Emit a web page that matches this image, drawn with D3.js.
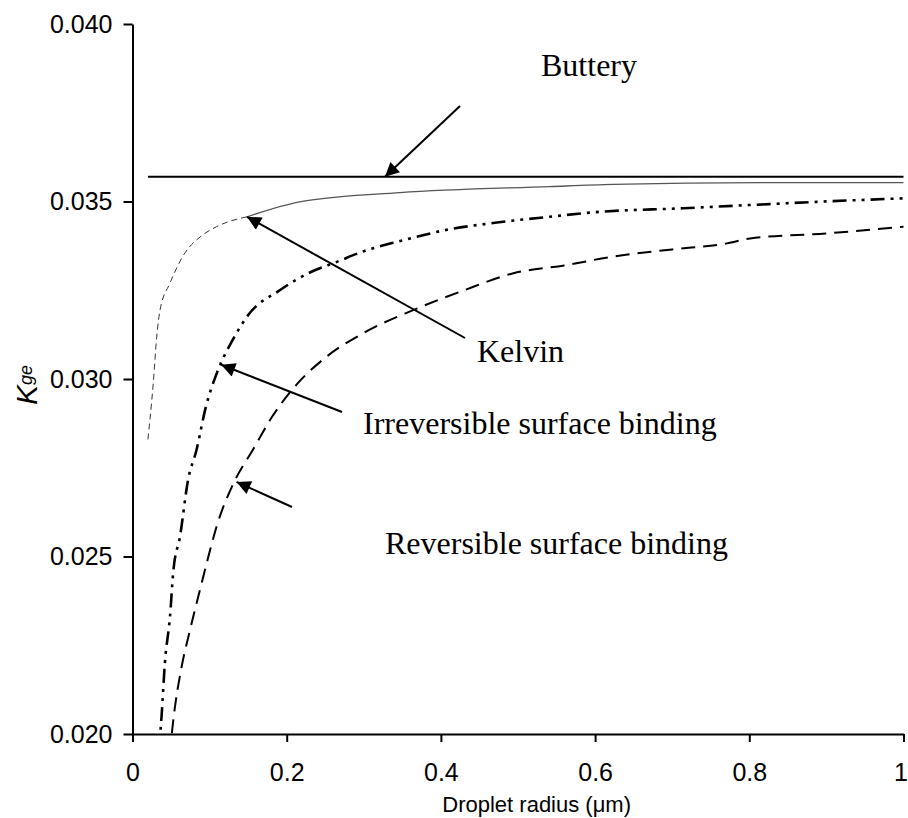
<!DOCTYPE html>
<html><head><meta charset="utf-8">
<script src="https://cdn.jsdelivr.net/npm/d3@7"></script>
<style>body{margin:0;background:#fff}svg{display:block}</style>
</head><body>
<script>
// ---- data ----
const xTicks = [0, 0.2, 0.4, 0.6, 0.8, 1];
const xTickLabels = ["0", "0.2", "0.4", "0.6", "0.8", "1"];
const yTicks = [0.020, 0.025, 0.030, 0.035, 0.040];
const yTickLabels = ["0.020", "0.025", "0.030", "0.035", "0.040"];

const butteryR = [0.02, 1.0];
const butteryK = [0.0357, 0.0357];

const kelvinR = [0.02, 0.025, 0.027, 0.0314, 0.0357, 0.0486, 0.068, 0.0876, 0.109, 0.1485, 0.217, 0.347, 0.5415, 0.623, 0.814, 1.0];
const kelvinK = [0.0283, 0.0294, 0.0299, 0.03119, 0.03194, 0.0327, 0.03355, 0.0340, 0.03429, 0.03457, 0.03499, 0.03525, 0.03542, 0.03548, 0.03553, 0.03553];

const irrevR = [0.034, 0.036, 0.0377, 0.042, 0.0486, 0.053, 0.0616, 0.072, 0.083, 0.095, 0.11, 0.13, 0.15, 0.191, 0.23, 0.265, 0.3, 0.35, 0.407, 0.47, 0.541, 0.6, 0.714, 0.8, 0.887, 1.0];
const irrevK = [0.0193, 0.0200, 0.0205, 0.0220, 0.0233, 0.0246, 0.02556, 0.02715, 0.0280, 0.0292, 0.0302, 0.0311, 0.0318, 0.0325, 0.0330, 0.0333, 0.0336, 0.0339, 0.0342, 0.0344, 0.03457, 0.0347, 0.03481, 0.0349, 0.03499, 0.03509];

const revR = [0.049, 0.051, 0.053, 0.0638, 0.0746, 0.0875, 0.0962, 0.109, 0.133, 0.156, 0.18, 0.2086, 0.25, 0.3, 0.364, 0.43, 0.494, 0.56, 0.6236, 0.7, 0.771, 0.801, 0.9, 1.0];
const revK = [0.0194, 0.0200, 0.0204, 0.0219, 0.02293, 0.02406, 0.02481, 0.02584, 0.02715, 0.0280, 0.0289, 0.02974, 0.0306, 0.0313, 0.03194, 0.0325, 0.03298, 0.0332, 0.03345, 0.03365, 0.03382, 0.03396, 0.0341, 0.03429];

const annoLabels = ["Buttery", "Kelvin", "Irreversible surface binding", "Reversible surface binding"];
// arrow heads point at these (r, K) spots on the curves
const arrowHeadR = [0.3275, 0.1485, 0.115, 0.135];
const arrowHeadK = [0.0357, 0.03457, 0.0304, 0.0271];

// ---- drawing ----
const W = 908, H = 818;
const svg = d3.select("body").append("svg").attr("width", W).attr("height", H);
const x = d3.scaleLinear().domain([0, 1]).range([132.5, 903.5]);
const y = d3.scaleLinear().domain([0.020, 0.040]).range([734, 24]);

const defs = svg.append("defs");
defs.append("clipPath").attr("id", "clip")
  .append("rect").attr("x", x(0)).attr("y", y(0.040) - 5).attr("width", x(1) - x(0) + 2).attr("height", y(0.020) - y(0.040) + 5);
defs.append("marker").attr("id", "ah").attr("viewBox", "0 0 10 10")
  .attr("refX", 10).attr("refY", 5).attr("markerWidth", 9).attr("markerHeight", 7)
  .attr("markerUnits", "strokeWidth").attr("orient", "auto")
  .append("path").attr("d", "M0,0 L10,5 L0,10 z").attr("fill", "#000");

const line = d3.line().x(d => x(d[0])).y(d => y(d[1])).curve(d3.curveMonotoneX);
const g = svg.append("g").attr("clip-path", "url(#clip)");
const zip = (a, b) => a.map((v, i) => [v, b[i]]);

const kel = zip(kelvinR, kelvinK);
g.append("path").datum(kel.filter(d => d[0] <= 0.1485)).attr("d", line)
  .attr("fill", "none").attr("stroke", "#333").attr("stroke-width", 1).attr("stroke-dasharray", "6,4");
g.append("path").datum(kel.filter(d => d[0] >= 0.1485)).attr("d", line)
  .attr("fill", "none").attr("stroke", "#555").attr("stroke-width", 1.3);
g.append("path").datum(zip(irrevR, irrevK)).attr("d", line)
  .attr("fill", "none").attr("stroke", "#000").attr("stroke-width", 2.6).attr("stroke-dasharray", "14,6,3,6,3,6");
g.append("path").datum(zip(revR, revK)).attr("d", line)
  .attr("fill", "none").attr("stroke", "#000").attr("stroke-width", 2).attr("stroke-dasharray", "14,8");
g.append("path").datum(zip(butteryR, butteryK)).attr("d", d3.line().x(d => x(d[0])).y(d => y(d[1])))
  .attr("fill", "none").attr("stroke", "#000").attr("stroke-width", 2);

// axes
const xAxis = svg.append("g").attr("transform", `translate(0,${y(0.020)})`)
  .call(d3.axisBottom(x).tickValues(xTicks).tickFormat((d, i) => xTickLabels[i]).tickSize(8).tickSizeOuter(0));
const yAxis = svg.append("g").attr("transform", `translate(${x(0)},0)`)
  .call(d3.axisLeft(y).tickValues(yTicks).tickFormat((d, i) => yTickLabels[i]).tickSize(9).tickSizeOuter(0));
[xAxis, yAxis].forEach(a => {
  a.select(".domain").attr("stroke", "#000").attr("stroke-width", 2);
  a.selectAll(".tick line").attr("stroke", "#000").attr("stroke-width", 2);
  a.selectAll(".tick text").attr("font-family", "Liberation Sans, Arial, sans-serif").attr("font-size", 25).attr("fill", "#000");
});
xAxis.selectAll(".tick text").attr("y", 29);
xAxis.selectAll(".tick text").filter(d => d === 1).attr("x", -3);
yAxis.selectAll(".tick text").attr("x", -20);

svg.append("text").attr("x", 631).attr("y", 812).attr("text-anchor", "end")
  .attr("font-family", "Liberation Sans, Arial, sans-serif").attr("font-size", 22)
  .text("Droplet radius (μm)");
const yl = svg.append("text").attr("transform", "translate(37,385) rotate(-90)")
  .attr("text-anchor", "middle").attr("font-family", "Liberation Sans, Arial, sans-serif").attr("font-style", "italic");
yl.append("tspan").attr("font-size", 30).text("K");
yl.append("tspan").attr("font-size", 18).attr("dy", -5).text("ge");

// annotations
const serif = "Liberation Serif, Times New Roman, serif";
const labelPos = [[589, 76, "middle"], [477, 362, "start"], [363, 434, "start"], [385, 554, "start"]];
annoLabels.forEach((t, i) => {
  svg.append("text").attr("x", labelPos[i][0]).attr("y", labelPos[i][1]).attr("text-anchor", labelPos[i][2])
    .attr("font-family", serif).attr("font-size", 32).text(t);
});
const arrowTails = [[460, 106], [465, 338], [342, 412], [292, 507]];
arrowTails.forEach((t, i) => {
  svg.append("line").attr("x1", t[0]).attr("y1", t[1])
    .attr("x2", x(arrowHeadR[i])).attr("y2", y(arrowHeadK[i]))
    .attr("stroke", "#000").attr("stroke-width", 2).attr("marker-end", "url(#ah)");
});
</script>
</body></html>
